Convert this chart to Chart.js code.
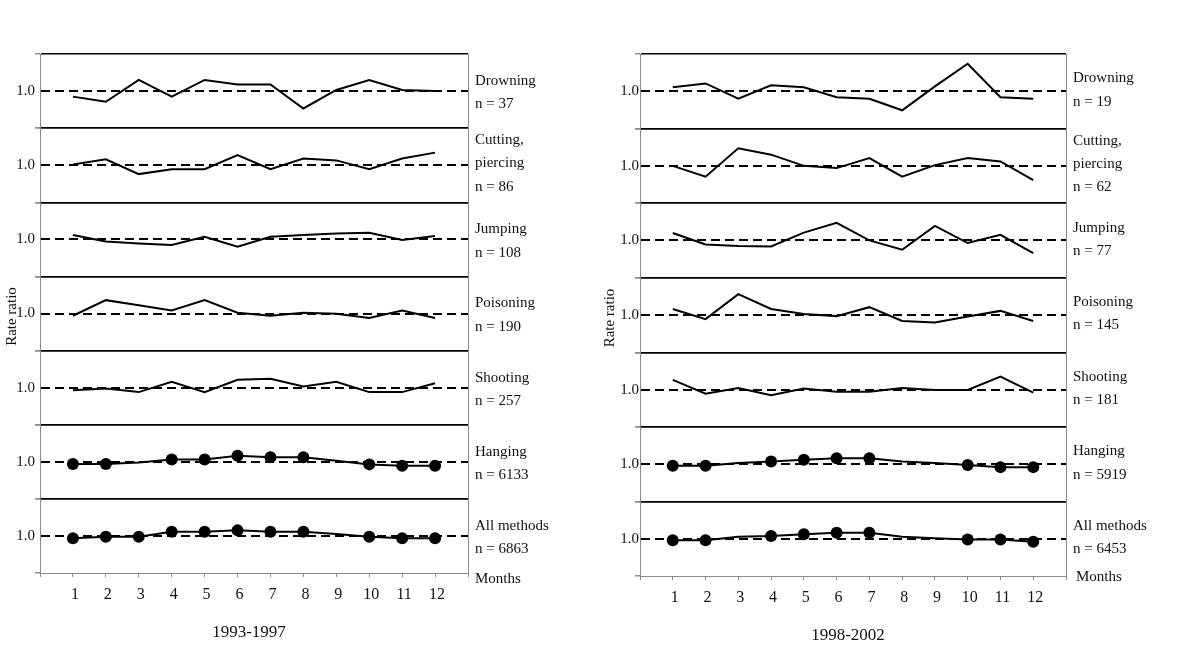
<!DOCTYPE html>
<html>
<head>
<meta charset="utf-8">
<title>Rate ratio by month and method</title>
<script src="https://cdn.jsdelivr.net/npm/chart.js@4"></script>
<style>
  body { margin: 0; background: #fff; }
  .panel { position: absolute; top: 0; width: 600px; height: 667px; }
</style>
</head>
<body>
<div class="panel" style="left:0"><canvas id="chartA"></canvas></div>
<div class="panel" style="left:600px"><canvas id="chartB"></canvas></div>

<script>
// months on the x axis
const months = [1, 2, 3, 4, 5, 6, 7, 8, 9, 10, 11, 12];
const methods = [['Drowning'], ['Cutting,', 'piercing'], ['Jumping'], ['Poisoning'], ['Shooting'], ['Hanging'], ['All methods']];

// 1993-1997
const countsA = [37, 86, 108, 190, 257, 6133, 6863];
const drowningA  = [0.85, 0.71, 1.30, 0.85, 1.30, 1.18, 1.18, 0.53, 1.03, 1.30, 1.03, 1.00];
const cuttingA   = [1.02, 1.16, 0.76, 0.89, 0.89, 1.27, 0.89, 1.18, 1.13, 0.89, 1.18, 1.34];
const jumpingA   = [1.12, 0.94, 0.89, 0.85, 1.07, 0.80, 1.07, 1.12, 1.16, 1.18, 0.98, 1.09];
const poisoningA = [0.94, 1.36, 1.22, 1.08, 1.36, 1.02, 0.94, 1.02, 0.99, 0.88, 1.08, 0.88];
const shootingA  = [0.93, 0.98, 0.88, 1.16, 0.88, 1.21, 1.24, 1.03, 1.16, 0.88, 0.88, 1.12];
const hangingA   = [0.94, 0.94, 0.98, 1.06, 1.06, 1.16, 1.12, 1.12, 1.03, 0.93, 0.89, 0.89];
const allA       = [0.94, 0.98, 0.98, 1.11, 1.11, 1.15, 1.11, 1.11, 1.05, 0.98, 0.94, 0.94];
// months drawn with a dot
const hangingDotsA = [1, 2, 4, 5, 6, 7, 8, 10, 11, 12];
const allDotsA     = [1, 2, 3, 4, 5, 6, 7, 8, 10, 11, 12];

// 1998-2002
const countsB = [19, 62, 77, 145, 181, 5919, 6453];
const drowningB  = [1.11, 1.21, 0.80, 1.16, 1.11, 0.84, 0.80, 0.49, 1.13, 1.74, 0.84, 0.80];
const cuttingB   = [1.00, 0.71, 1.47, 1.30, 1.00, 0.94, 1.21, 0.71, 1.02, 1.21, 1.12, 0.62];
const jumpingB   = [1.20, 0.89, 0.85, 0.84, 1.21, 1.47, 1.00, 0.75, 1.39, 0.93, 1.15, 0.66];
const poisoningB = [1.16, 0.89, 1.56, 1.16, 1.03, 0.97, 1.21, 0.84, 0.80, 0.96, 1.11, 0.84];
const shootingB  = [1.26, 0.89, 1.04, 0.85, 1.03, 0.94, 0.94, 1.04, 0.99, 0.99, 1.35, 0.92];
const hangingB   = [0.96, 0.96, 1.03, 1.07, 1.12, 1.16, 1.16, 1.07, 1.03, 0.98, 0.92, 0.92];
const allB       = [0.96, 0.96, 1.05, 1.07, 1.12, 1.16, 1.16, 1.05, 1.01, 0.98, 0.98, 0.92];
const hangingDotsB = [1, 2, 4, 5, 6, 7, 10, 11, 12];
const allDotsB     = [1, 2, 4, 5, 6, 7, 10, 11, 12];

const SERIF = '"Liberation Serif", "Times New Roman", serif';
const GRAY = '#8a8a8a';
const NONE = 'rgba(0,0,0,0)';

// labels at the right of each strip, "Months", the period and the y title
const stripText = {
    id: 'stripText',
    afterDraw(chart) {
        const o = chart.options.plugins.stripText;
        const ctx = chart.ctx;
        const area = chart.chartArea;
        ctx.save();
        ctx.fillStyle = '#111';
        ctx.font = '15px ' + SERIF;
        ctx.textBaseline = 'middle';
        ctx.textAlign = 'left';
        methods.forEach((lines, k) => {
            const sc = chart.scales['y' + k];
            const all = lines.concat('n = ' + o.counts[k]);
            let y = sc.top + (all.length > 2 ? 12 : o.labelTop);
            all.forEach(t => { ctx.fillText(t, o.labelX, y); y += 23.3; });
        });
        const xs = chart.scales.x;
        ctx.fillText('Months', o.monthsX, xs.top + o.monthsDy);

        ctx.textAlign = 'center';
        ctx.font = '17px ' + SERIF;
        ctx.fillText(o.period, (area.left + area.right) / 2 - 5, xs.top + 60);

        ctx.font = '15px ' + SERIF;
        ctx.translate(o.titleX, (area.top + area.bottom) / 2 + 3);
        ctx.rotate(-Math.PI / 2);
        ctx.fillText('Rate ratio', 0, 0);
        ctx.restore();
    }
};

function buildChart(id, series, dots, counts, period, cfg) {
    const last = series.length - 1;
    const scales = {
        x: {
            type: 'linear',
            min: 0,
            max: 13,
            afterBuildTicks: s => { s.ticks = [0, ...months, 13].map(v => ({ value: v })); },
            afterFit: s => { s.height = 30; },
            ticks: {
                autoSkip: false,
                maxRotation: 0,
                padding: 8,
                labelOffset: 2,
                color: '#111',
                font: { family: SERIF, size: 16 },
                callback: v => (v >= 1 && v <= 12 ? String(v) : '')
            },
            grid: {
                color: c => (c.tick && c.tick.value === 13 ? GRAY : NONE),
                lineWidth: 1,
                tickColor: GRAY,
                tickLength: 4
            },
            border: { color: GRAY, width: 1 }
        }
    };
    series.forEach((vals, k) => {
        scales['y' + k] = {
            type: 'linear',
            position: 'left',
            stack: 'strips',
            stackWeight: 1,
            weight: series.length - k,
            min: 0,
            max: 2,
            afterBuildTicks: s => { s.ticks = [0, 1, 2].map(v => ({ value: v })); },
            afterFit: s => { s.width = 40; },
            ticks: {
                autoSkip: false,
                padding: cfg.yPad,
                color: '#111',
                font: { family: SERIF, size: 15 },
                callback: v => (v === 1 ? '1.0' : '')
            },
            grid: {
                color: c => (c.tick && c.tick.value === 0 && k === last ? NONE : '#000'),
                lineWidth: c => (c.tick && c.tick.value === 1 ? 2 : 1.5),
                tickColor: c => (c.tick && c.tick.value === 1 ? NONE : GRAY),
                tickLength: 5
            },
            border: {
                color: GRAY,
                width: 1,
                dash: c => (c.tick && c.tick.value === 1 ? [9, 5] : [])
            }
        };
    });

    const datasets = series.map((vals, k) => ({
        data: months.map((m, i) => ({ x: m, y: vals[i] })),
        yAxisID: 'y' + k,
        borderColor: '#000',
        backgroundColor: '#000',
        borderWidth: 2,
        tension: 0,
        pointRadius: months.map(m => (dots[k] && dots[k].includes(m) ? 6 : 0)),
        pointBorderWidth: 0,
        pointBackgroundColor: '#000'
    }));

    return new Chart(document.getElementById(id), {
        type: 'line',
        data: { datasets: datasets },
        options: {
            responsive: true,
            maintainAspectRatio: false,
            animation: false,
            layout: { padding: { top: 54, left: 0, right: cfg.padRight, bottom: cfg.padBottom } },
            plugins: {
                legend: { display: false },
                tooltip: { enabled: false },
                stripText: {
                    counts: counts,
                    period: period,
                    labelX: cfg.labelX,
                    labelTop: cfg.labelTop,
                    monthsX: cfg.monthsX,
                    monthsDy: cfg.monthsDy,
                    titleX: cfg.titleX
                }
            },
            scales: scales
        },
        plugins: [stripText]
    });
}

buildChart('chartA',
    [drowningA, cuttingA, jumpingA, poisoningA, shootingA, hangingA, allA],
    [null, null, null, null, null, hangingDotsA, allDotsA],
    countsA, '1993-1997',
    { padRight: 132, padBottom: 64, yPad: 0, labelX: 475, labelTop: 27, monthsX: 475, monthsDy: 6, titleX: 12 });

buildChart('chartB',
    [drowningB, cuttingB, jumpingB, poisoningB, shootingB, hangingB, allB],
    [null, null, null, null, null, hangingDotsB, allDotsB],
    countsB, '1998-2002',
    { padRight: 134, padBottom: 61, yPad: -4, labelX: 473, labelTop: 24.5, monthsX: 476, monthsDy: 1.5, titleX: 10 });
</script>
</body>
</html>
